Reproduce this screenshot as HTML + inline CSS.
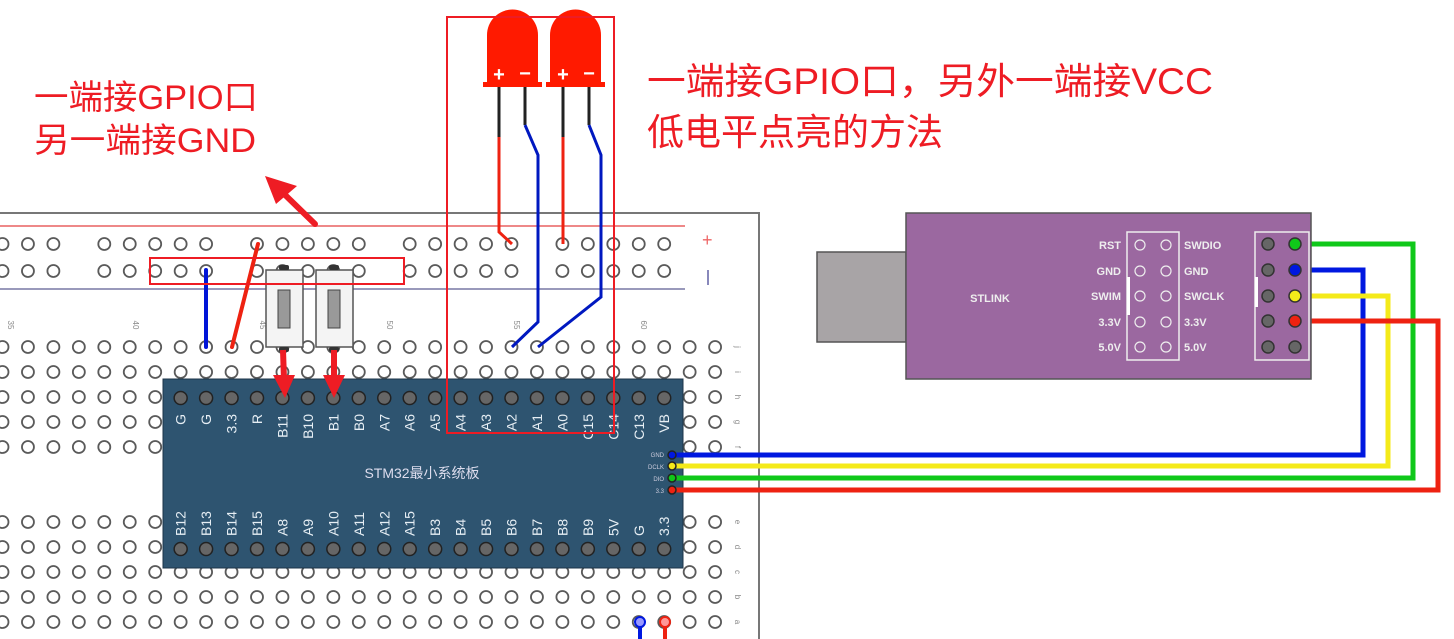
<!DOCTYPE html>
<html><head><meta charset="utf-8"><style>
html,body{margin:0;padding:0;background:#fff;width:1454px;height:639px;overflow:hidden}
svg{display:block}
.cn{font-family:"Liberation Sans","Noto Sans CJK SC",sans-serif}
</style></head><body>
<svg id="s" width="1454" height="639" viewBox="0 0 1454 639" xmlns="http://www.w3.org/2000/svg">
<rect x="-5" y="213" width="764" height="440" fill="#fff" stroke="#777" stroke-width="2"/>
<line x1="0" y1="226" x2="685" y2="226" stroke="#e88" stroke-width="2"/>
<line x1="0" y1="289" x2="685" y2="289" stroke="#99b" stroke-width="2"/>
<text x="702" y="246" fill="#e66" font-size="18" font-family="Liberation Sans">+</text>
<line x1="708" y1="270" x2="708" y2="285" stroke="#88b" stroke-width="2"/>
<g id="holes" fill="none" stroke="#5a5a5a" stroke-width="1.8"></g>
<g font-family="Liberation Sans" font-size="8" fill="#888">
<text transform="translate(8,325) rotate(90)" text-anchor="middle">35</text>
<text transform="translate(133,325) rotate(90)" text-anchor="middle">40</text>
<text transform="translate(260,325) rotate(90)" text-anchor="middle">45</text>
<text transform="translate(387,325) rotate(90)" text-anchor="middle">50</text>
<text transform="translate(514,325) rotate(90)" text-anchor="middle">55</text>
<text transform="translate(641,325) rotate(90)" text-anchor="middle">60</text>
<text transform="translate(735,347) rotate(90)" text-anchor="middle">j</text>
<text transform="translate(735,372) rotate(90)" text-anchor="middle">i</text>
<text transform="translate(735,397) rotate(90)" text-anchor="middle">h</text>
<text transform="translate(735,422) rotate(90)" text-anchor="middle">g</text>
<text transform="translate(735,447) rotate(90)" text-anchor="middle">f</text>
<text transform="translate(735,522) rotate(90)" text-anchor="middle">e</text>
<text transform="translate(735,547) rotate(90)" text-anchor="middle">d</text>
<text transform="translate(735,572) rotate(90)" text-anchor="middle">c</text>
<text transform="translate(735,597) rotate(90)" text-anchor="middle">b</text>
<text transform="translate(735,622) rotate(90)" text-anchor="middle">a</text>
</g>
<g>
<rect x="266" y="270" width="37" height="77" fill="#f4f4f4" stroke="#555" stroke-width="1.5"/>
<rect x="278" y="290" width="12" height="38" fill="#999" stroke="#444"/>
<rect x="316" y="270" width="37" height="77" fill="#f4f4f4" stroke="#555" stroke-width="1.5"/>
<rect x="328" y="290" width="12" height="38" fill="#999" stroke="#444"/>
<rect x="279" y="265" width="10" height="5" rx="2" fill="#333"/>
<rect x="329" y="265" width="10" height="5" rx="2" fill="#333"/>
<rect x="279" y="347" width="10" height="5" rx="2" fill="#333"/>
<rect x="329" y="347" width="10" height="5" rx="2" fill="#333"/>
</g>
<line x1="206" y1="270" x2="206" y2="347" stroke="#0015d8" stroke-width="4" stroke-linecap="round"/>
<line x1="258" y1="244" x2="232" y2="347" stroke="#ee2211" stroke-width="4" stroke-linecap="round"/>
<rect x="163" y="379" width="520" height="189" fill="#2e5470" stroke="#1c3548"/>
<g id="pins" fill="#666" stroke="#222" stroke-width="1.5"></g>
<g font-family="Liberation Sans" font-size="14" fill="#e6eef4">
<g id="toplab"></g><g id="botlab"></g>
</g>
<text x="422" y="478" text-anchor="middle" class="cn" font-size="14" fill="#dde">STM32最小系统板</text>
<g font-family="Liberation Sans" font-size="6" fill="#ccd" text-anchor="end">
<text x="664" y="457">GND</text><text x="664" y="469">DCLK</text><text x="664" y="481">DIO</text><text x="664" y="493">3.3</text>
</g>
<g fill="none" stroke-width="5" stroke-linejoin="miter">
<polyline points="670,455 1363,455 1363,270 1295,270" stroke="#0018e0"/>
<polyline points="670,466 1388,466 1388,296 1295,296" stroke="#f4ea1a"/>
<polyline points="670,478 1413,478 1413,244 1295,244" stroke="#10c81a"/>
<polyline points="670,490 1438,490 1438,321 1295,321" stroke="#ee2211"/>
</g>
<g stroke="#222" stroke-width="1.5"><circle cx="672" cy="455" r="4" fill="#0018e0"/><circle cx="672" cy="466" r="4" fill="#f4ea1a"/><circle cx="672" cy="478" r="4" fill="#10c81a"/><circle cx="672" cy="490" r="4" fill="#ee2211"/></g>
<line x1="640" y1="622" x2="640" y2="640" stroke="#0018e0" stroke-width="4"/>
<line x1="665" y1="622" x2="665" y2="640" stroke="#ee2211" stroke-width="4"/>
<circle cx="640" cy="622" r="5" fill="#99f" stroke="#0018e0" stroke-width="2"/>
<circle cx="665" cy="622" r="5" fill="#f99" stroke="#ee2211" stroke-width="2"/>
<g fill="none" stroke-width="3">
<line x1="499" y1="87" x2="499" y2="137" stroke="#222"/>
<polyline points="499,137 499,232 512,244" stroke="#ee2211"/>
<line x1="525" y1="87" x2="525" y2="125" stroke="#222"/>
<polyline points="525,125 538,155 538,322 512,347" stroke="#0018c0"/>
<line x1="563" y1="87" x2="563" y2="137" stroke="#222"/>
<polyline points="563,137 563,244" stroke="#ee2211"/>
<line x1="589" y1="87" x2="589" y2="125" stroke="#222"/>
<polyline points="589,125 601,155 601,297 538,347" stroke="#0018c0"/>
</g>
<g fill="#ff1a00">
<path d="M487,84 L487,35 A25.5,25.5 0 0 1 538,35 L538,84 Z"/>
<rect x="483" y="82" width="59" height="5"/>
<path d="M550,84 L550,35 A25.5,25.5 0 0 1 601,35 L601,84 Z"/>
<rect x="546" y="82" width="59" height="5"/>
</g>
<g fill="#fff" font-family="Liberation Sans" font-size="20" font-weight="bold" text-anchor="middle">
<text x="499" y="81">+</text><text x="525" y="80">−</text>
<text x="563" y="81">+</text><text x="589" y="80">−</text>
</g>
<rect x="817" y="252" width="89" height="90" fill="#a8a4a6" stroke="#555" stroke-width="1.5"/>
<rect x="906" y="213" width="405" height="166" fill="#9b68a0" stroke="#555" stroke-width="1.5"/>
<text x="990" y="302" font-family="Liberation Sans" font-size="11" font-weight="bold" fill="#eee" text-anchor="middle">STLINK</text>
<rect x="1127" y="232" width="52" height="128" fill="none" stroke="#eee" stroke-width="1.5"/>
<rect x="1127" y="277" width="3" height="38" fill="#fff"/>
<g fill="none" stroke="#eee" stroke-width="1.2">
<circle cx="1140" cy="245" r="5"/><circle cx="1166" cy="245" r="5"/>
<circle cx="1140" cy="271" r="5"/><circle cx="1166" cy="271" r="5"/>
<circle cx="1140" cy="296" r="5"/><circle cx="1166" cy="296" r="5"/>
<circle cx="1140" cy="322" r="5"/><circle cx="1166" cy="322" r="5"/>
<circle cx="1140" cy="347" r="5"/><circle cx="1166" cy="347" r="5"/>
</g>
<g font-family="Liberation Sans" font-size="11" font-weight="bold" fill="#eee">
<g text-anchor="end"><text x="1121" y="249">RST</text><text x="1121" y="275">GND</text><text x="1121" y="300">SWIM</text><text x="1121" y="326">3.3V</text><text x="1121" y="351">5.0V</text></g>
<text x="1184" y="249">SWDIO</text><text x="1184" y="275">GND</text><text x="1184" y="300">SWCLK</text><text x="1184" y="326">3.3V</text><text x="1184" y="351">5.0V</text>
</g>
<rect x="1255" y="232" width="54" height="128" fill="none" stroke="#eee" stroke-width="1.5"/>
<rect x="1255" y="277" width="3" height="30" fill="#fff"/>
<g stroke="#333" stroke-width="1.5" fill="#666">
<circle cx="1268" cy="244" r="6"/><circle cx="1268" cy="270" r="6"/><circle cx="1268" cy="296" r="6"/><circle cx="1268" cy="321" r="6"/><circle cx="1268" cy="347" r="6"/>
<circle cx="1295" cy="347" r="6"/>
<circle cx="1295" cy="244" r="6" fill="#10c81a"/><circle cx="1295" cy="270" r="6" fill="#0018e0"/><circle cx="1295" cy="296" r="6" fill="#f4ea1a"/><circle cx="1295" cy="321" r="6" fill="#ee2211"/>
</g>
<rect x="150" y="258" width="254" height="26" fill="none" stroke="#ee1c24" stroke-width="2"/>
<rect x="447" y="17" width="167" height="416" fill="none" stroke="#ee1c24" stroke-width="2"/>
<line x1="315" y1="224" x2="280" y2="190" stroke="#ee1c24" stroke-width="6" stroke-linecap="round"/>
<polygon points="265,176 297,186 276,204" fill="#ee1c24"/>
<line x1="283" y1="350" x2="284" y2="380" stroke="#ee1c24" stroke-width="6"/>
<polygon points="273,375 295,375 285,398" fill="#ee1c24"/>
<line x1="334" y1="350" x2="334" y2="380" stroke="#ee1c24" stroke-width="6"/>
<polygon points="323,375 345,375 334,398" fill="#ee1c24"/>
<g class="cn" fill="#ee1c24">
<text x="34" y="109" font-size="34" textLength="224" lengthAdjust="spacingAndGlyphs">一端接GPIO口</text>
<text x="34" y="152" font-size="34" textLength="222" lengthAdjust="spacingAndGlyphs">另一端接GND</text>
<text x="647" y="94" font-size="37" textLength="566" lengthAdjust="spacingAndGlyphs">一端接GPIO口，另外一端接VCC</text>
<text x="647" y="145" font-size="37">低电平点亮的方法</text>
</g>
</svg>
<script>
var NS="http://www.w3.org/2000/svg";
function X(k){return 2.5+25.45*k;}
var h=document.getElementById("holes");
function c(g,x,y,r){var e=document.createElementNS(NS,"circle");e.setAttribute("cx",x);e.setAttribute("cy",y);e.setAttribute("r",r);g.appendChild(e);}
var rail=[-1,0,1,2,4,5,6,7,8,10,11,12,13,14,16,17,18,19,20,22,23,24,25,26];
rail.forEach(function(k){c(h,X(k),244,6);c(h,X(k),271,6);});
[347,372,397,422,447,522,547,572,597,622].forEach(function(y){for(var k=0;k<=28;k++){c(h,X(k),y,6);}});
var p=document.getElementById("pins");
for(var k=7;k<=26;k++){c(p,X(k),398,6.5);c(p,X(k),549,6.5);}
var T=["G","G","3.3","R","B11","B10","B1","B0","A7","A6","A5","A4","A3","A2","A1","A0","C15","C14","C13","VB"];
var B=["B12","B13","B14","B15","A8","A9","A10","A11","A12","A15","B3","B4","B5","B6","B7","B8","B9","5V","G","3.3"];
var tl=document.getElementById("toplab"),bl=document.getElementById("botlab");
for(var i=0;i<20;i++){var x=X(i+7)+5;
var t=document.createElementNS(NS,"text");t.setAttribute("transform","translate("+x+",414) rotate(-90)");t.setAttribute("text-anchor","end");t.textContent=T[i];tl.appendChild(t);
var b=document.createElementNS(NS,"text");b.setAttribute("transform","translate("+x+",536) rotate(-90)");b.textContent=B[i];bl.appendChild(b);}
</script>
</body></html>
